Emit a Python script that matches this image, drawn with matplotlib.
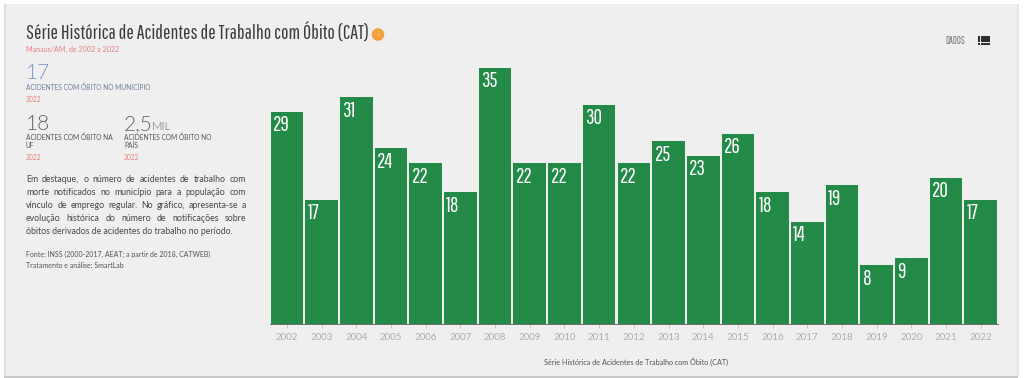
import matplotlib
matplotlib.use("Agg")
import matplotlib.pyplot as plt
from matplotlib import font_manager
from matplotlib.font_manager import FontProperties
from matplotlib.patches import Circle, Rectangle

W, H = 1024, 378
GREEN = "#248a48"
RED = "#e88080"
DARK = "#444444"

years = list(range(2002, 2023))
deaths = [29, 17, 31, 24, 22, 18, 35, 22, 22, 30, 22, 25, 23, 26, 18, 14, 19, 8, 9, 20, 17]

title = "Série Histórica de Acidentes de Trabalho com Óbito (CAT)"
subtitle = "Manaus/AM, de 2002 a 2022"
axis_title = "Série Histórica de Acidentes de Trabalho com Óbito (CAT)"
paragraph = [
    "Em destaque, o número de acidentes de trabalho com",
    "morte notificados no município para a população com",
    "vínculo de emprego regular. No gráfico, apresenta-se a",
    "evolução histórica do número de notificações sobre",
]
paragraph_last = "óbitos derivados de acidentes do trabalho no período."

installed = {f.name for f in font_manager.fontManager.ttflist}
NARROW = "Pathway Gothic One" if "Pathway Gothic One" in installed else "Liberation Sans"

# Lato Light by file, weight="light" lands on Hairline
light_files = [f.fname for f in font_manager.fontManager.ttflist
               if f.name == "Lato" and f.fname.endswith("Lato-Light.ttf")]
LIGHT = FontProperties(fname=light_files[0]) if light_files else FontProperties(family="Lato")

fig = plt.figure(figsize=(W / 100, H / 100), dpi=100, facecolor="white")

# page background, drawn in pixel coordinates
bg = fig.add_axes([0, 0, 1, 1], zorder=0)
bg.set_xlim(0, W)
bg.set_ylim(H, 0)
bg.axis("off")
bg.add_patch(Rectangle((4, 375), 1014, 3, color="#c8c8c8", lw=0))
bg.add_patch(Rectangle((4, 4), 2, 372, color="#dddddd", lw=0))
bg.add_patch(Rectangle((1017, 4), 2, 372, color="#e6e6e6", lw=0))
bg.add_patch(Rectangle((6, 4), 1011, 372, color="#efefef", lw=0))


def label(x, y, s, size, color=DARK, family="Lato", **kw):
    return bg.text(x, y, s, fontsize=size, color=color, family=family, va="center", ha="left", **kw)


def big_number(x, y, s, size, color):
    fp = LIGHT.copy()
    fp.set_size(size)
    return bg.text(x, y, s, fontproperties=fp, color=color, va="center", ha="left")


def justified(x0, x1, y, line, size, color):
    # spread the words of one line between x0 and x1
    words = line.split(" ")
    renderer = fig.canvas.get_renderer()
    items = [label(x0, y, w, size, color) for w in words]
    widths = [t.get_window_extent(renderer).width for t in items]
    gap = (x1 - x0 - sum(widths)) / (len(words) - 1)
    x = x0
    for t, w in zip(items, widths):
        t.set_x(x)
        x += w + gap


label(26, 33, title, 14.2, "#3c3c3c", NARROW)
bg.add_patch(Circle((378, 34.5), 6.3, color="#f2a23c", lw=0))
bg.text(378, 34.5, "i", fontsize=5, color="#fbd9a0", family="Lato", ha="center", va="center")
label(26, 49, subtitle, 5.1, RED)

big_number(26, 73, "17", 15, "#7d94c4")
label(26, 87, "ACIDENTES COM ÓBITO NO MUNICÍPIO", 4.8, "#6f7f9c")
label(26, 99, "2022", 4.8, RED)

big_number(26, 124, "18", 15, "#666666")
label(26, 137, "ACIDENTES COM ÓBITO NA", 4.8, "#555555")
label(26, 146, "UF", 4.8, "#555555")
label(26, 157, "2022", 4.8, RED)

big_number(124, 124, "2,5", 15, "#666666")
big_number(152, 127, "MIL", 8.2, "#666666")
label(124, 137, "ACIDENTES COM ÓBITO NO", 4.8, "#555555")
label(124, 146, "PAÍS", 4.8, "#555555")
label(124, 157, "2022", 4.8, RED)

for i, line in enumerate(paragraph):
    justified(26, 246, 179 + i * 13.2, line, 6.3, "#484848")
label(26, 232, paragraph_last, 6.3, "#484848")

label(26, 254.5, "Fonte: INSS (2000-2017, AEAT; a partir de 2018, CATWEB)", 5.0, "#555555")
label(26, 266, "Tratamento e análise: SmartLab", 5.0, "#555555")

label(945, 41, "DADOS", 7, "#707070", NARROW)
for y in (36, 39.3, 42.6):
    bg.add_patch(Rectangle((977.5, y), 2.6, 2.5, color="#2f2f2f", lw=0))
    bg.add_patch(Rectangle((981, y), 8.5, 2.5, color="#2f2f2f", lw=0))

# bar chart
left, right, top, base = 269.6, 998.1, 68, 324
ax = fig.add_axes([left / W, 1 - base / H, (right - left) / W, (base - top) / H], zorder=1)
ax.patch.set_alpha(0)
x = list(range(len(years)))
bar_width = 0.94
ax.bar(x, deaths, width=bar_width, color=GREEN, linewidth=0)
ax.set_xlim(-0.5, len(years) - 0.5)
ax.set_ylim(0, max(deaths))
ax.set_yticks([])
ax.set_xticks(x)
ax.set_xticklabels(years, fontsize=7.0, color="#adadad", family="Lato")
ax.tick_params(axis="x", length=3, width=0.6, color="#bcbcbc", pad=3.5)
for side in ("top", "left", "right"):
    ax.spines[side].set_visible(False)
ax.spines["bottom"].set_color("#555555")
ax.spines["bottom"].set_linewidth(0.6)

for xi, v in zip(x, deaths):
    ax.annotate(str(v), (xi - bar_width / 2, v), xytext=(1.6, -2.5), textcoords="offset points",
                ha="left", va="top", color="white", fontsize=15, family=NARROW)

bg.text(636, 362, axis_title, fontsize=5.2, color="#555555", family="Lato", ha="center", va="center")

fig.savefig("out.png", dpi=100, facecolor=fig.get_facecolor())
